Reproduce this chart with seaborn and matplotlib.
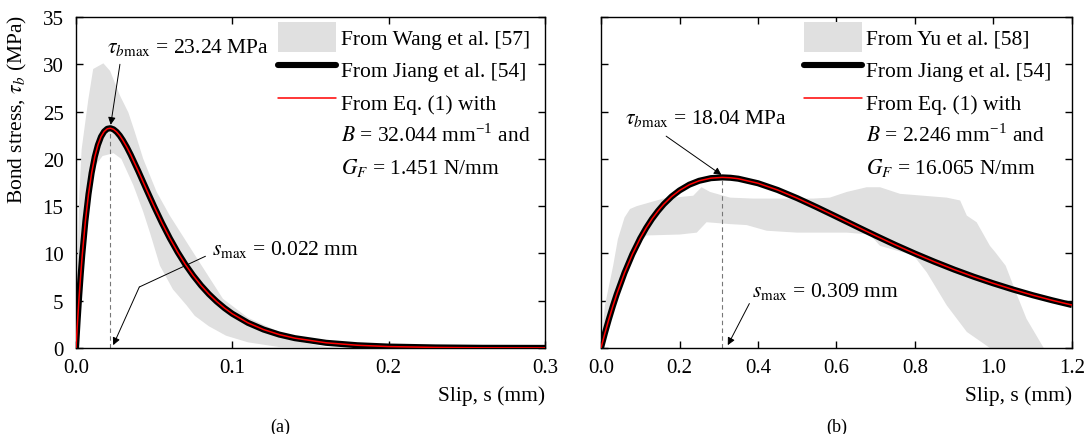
import numpy as np
import matplotlib
matplotlib.use("Agg")
import matplotlib.pyplot as plt
import seaborn as sns
from matplotlib.patches import Patch
from matplotlib.lines import Line2D

# ---- panel (a): Wang et al. band + Jiang et al. curve ----
wang_upper_s = [0, 0.001, 0.002, 0.0036, 0.0079, 0.011, 0.0175, 0.0218, 0.0281, 0.0335,
                0.0377, 0.043, 0.0516, 0.060, 0.075, 0.094, 0.11, 0.13, 0.145, 0.16, 0.17]
wang_upper_tau = [0, 9.0, 15.8, 21.0, 26.3, 29.5, 30.1, 29.3, 26.7, 24.9,
                  22.8, 20.0, 16.5, 14.0, 10.1, 5.2, 3.2, 1.7, 0.6, 0.1, 0]
wang_lower_s = [0, 0.004, 0.008, 0.012, 0.017, 0.024, 0.029, 0.0367, 0.043, 0.0473,
                0.0537, 0.062, 0.0708, 0.076, 0.085, 0.096, 0.11, 0.13, 0.17]
wang_lower_tau = [0, 9.5, 15.8, 19.2, 20.3, 20.6, 20.0, 17.2, 14.4, 12.2,
                  8.7, 6.2, 4.5, 3.4, 2.3, 1.3, 0.6, 0.1, 0]

jiang_a_s = [0, 0.001, 0.002, 0.003, 0.004, 0.006, 0.008, 0.010, 0.012, 0.014, 0.016,
             0.018, 0.020, 0.022, 0.024, 0.026, 0.028, 0.030, 0.0325, 0.035, 0.040,
             0.045, 0.050, 0.055, 0.060, 0.065, 0.070, 0.075, 0.080, 0.085, 0.090,
             0.095, 0.100, 0.110, 0.120, 0.130, 0.140, 0.160, 0.180, 0.200, 0.230,
             0.260, 0.300]
jiang_a_tau = [0, 2.84, 5.42, 7.74, 9.84, 13.42, 16.27, 18.50, 20.21, 21.46, 22.34,
               22.89, 23.18, 23.24, 23.12, 22.85, 22.46, 21.96, 21.24, 20.43, 18.65,
               16.79, 14.96, 13.22, 11.61, 10.14, 8.82, 7.65, 6.61, 5.70, 4.91,
               4.22, 3.62, 2.66, 1.95, 1.42, 1.04, 0.55, 0.29, 0.15, 0.06,
               0.02, 0.01]

# ---- panel (b): Yu et al. band + Jiang et al. curve ----
yu_upper_s = [0, 0.01, 0.031, 0.043, 0.06, 0.074, 0.091, 0.159, 0.235, 0.256, 0.278,
              0.329, 0.388, 0.541, 0.583, 0.626, 0.677, 0.711, 0.762, 0.881, 0.915,
              0.932, 0.957, 0.991, 1.005, 1.031, 1.057, 1.084, 1.128]
yu_upper_tau = [0, 4.5, 8.7, 11.5, 13.8, 14.7, 15.0, 15.8, 16.1, 17.0, 16.5,
                15.9, 15.8, 15.8, 15.9, 16.5, 17.0, 17.0, 16.3, 15.9, 15.6,
                14.0, 13.3, 10.8, 10.1, 8.7, 5.9, 3.1, 0]
yu_lower_s = [0, 0.05, 0.09, 0.116, 0.201, 0.244, 0.269, 0.329, 0.371, 0.422, 0.499,
              0.626, 0.685, 0.711, 0.796, 0.83, 0.881, 0.932, 0.991, 1.128]
yu_lower_tau = [0, 6.5, 10.8, 11.9, 12.0, 12.2, 13.3, 13.1, 13.0, 12.4, 12.2,
                12.2, 12.0, 10.8, 9.8, 8.0, 4.5, 1.7, 0, 0]

jiang_b_s = [0, 0.01, 0.02, 0.03, 0.04, 0.06, 0.08, 0.10, 0.115, 0.13, 0.145, 0.16,
             0.18, 0.20, 0.225, 0.25, 0.28, 0.309, 0.33, 0.35, 0.40, 0.45, 0.50,
             0.55, 0.60, 0.65, 0.70, 0.75, 0.80, 0.85, 0.90, 0.95, 1.00, 1.05,
             1.10, 1.15, 1.20]
jiang_b_tau = [0, 1.57, 3.03, 4.40, 5.67, 7.95, 9.92, 11.60, 12.69, 13.65, 14.48, 15.21,
               16.02, 16.66, 17.27, 17.68, 17.96, 18.04, 18.00, 17.90, 17.42, 16.71, 15.84,
               14.88, 13.88, 12.87, 11.87, 10.90, 9.98, 9.11, 8.29, 7.53, 6.83, 6.18,
               5.58, 5.04, 4.54]

GRAY = '#e0e0e0'
FS = 15.5
TICK_FS = 15

sns.set_theme(style='ticks')
plt.rcParams['font.family'] = ['Liberation Serif', 'DejaVu Serif']
plt.rcParams['mathtext.fontset'] = 'stix'
plt.rcParams['font.size'] = FS
for key in ['text.color', 'axes.labelcolor', 'xtick.color', 'ytick.color',
            'xtick.labelcolor', 'ytick.labelcolor', 'axes.edgecolor']:
    plt.rcParams[key] = 'black'


def style_axes(ax, xmax, xstep, show_ylabels):
    ax.set_xlim(0, xmax)
    ax.set_ylim(0, 35)
    ax.set_xticks(np.arange(0, xmax + xstep / 2, xstep))
    ax.set_yticks(np.arange(0, 36, 5))
    ax.xaxis.set_major_formatter(matplotlib.ticker.FormatStrFormatter('%.1f'))
    ax.tick_params(direction='in', top=True, right=True, length=5, width=1,
                   labelsize=TICK_FS, color='black', labelcolor='black')
    ax.tick_params(axis='x', pad=7)
    ax.tick_params(axis='y', pad=9)
    if not show_ylabels:
        ax.tick_params(labelleft=False)
    for sp in ax.spines.values():
        sp.set_visible(True)
        sp.set_color('black')
        sp.set_linewidth(1.0)
    ax.set_xlabel('Slip, s (mm)', fontsize=FS, loc='right', color='black')
    ax.xaxis.set_label_coords(1.0, -0.112)


def draw_panel(ax, up_s, up_t, lo_s, lo_t, cs, ct, band_label, b_text, g_text):
    ax.fill(list(up_s) + list(lo_s)[::-1], list(up_t) + list(lo_t)[::-1],
            color=GRAY, lw=0, zorder=1)
    sns.lineplot(x=cs, y=ct, ax=ax, color='black', lw=4.4, sort=False, zorder=3,
                 solid_joinstyle='round', solid_capstyle='butt')
    sns.lineplot(x=cs, y=ct, ax=ax, color='#ff0000', lw=1.1, sort=False, zorder=4,
                 solid_joinstyle='round')
    handles = [Patch(facecolor=GRAY, edgecolor='none'),
               Line2D([], [], color='black', lw=4.4, solid_capstyle='round'),
               Line2D([], [], color='#ff0000', lw=1.1),
               Line2D([], [], color='none'),
               Line2D([], [], color='none')]
    labels = [band_label, 'From Jiang et al. [54]', 'From Eq. (1) with', b_text, g_text]
    leg = ax.legend(handles, labels, loc='upper left', bbox_to_anchor=(0.431, 0.985),
                    frameon=False, fontsize=FS, handlelength=2.7, handleheight=1.75,
                    handletextpad=0.2, labelspacing=0.12, borderpad=0, borderaxespad=0)
    for t in leg.get_texts():
        t.set_color('black')


fig = plt.figure(figsize=(10.89, 4.35), dpi=100)
ax_a = fig.add_axes([76 / 1089, 86 / 435, 469 / 1089, 331 / 435])
ax_b = fig.add_axes([601 / 1089, 86 / 435, 471 / 1089, 331 / 435])

draw_panel(ax_a, wang_upper_s, wang_upper_tau, wang_lower_s, wang_lower_tau,
           jiang_a_s, jiang_a_tau, 'From Wang et al. [57]',
           r'$B$ = 32.044 mm$^{\mathregular{-1}}$ and', r'$G_F$ = 1.451 N/mm')
draw_panel(ax_b, yu_upper_s, yu_upper_tau, yu_lower_s, yu_lower_tau,
           jiang_b_s, jiang_b_tau, 'From Yu et al. [58]',
           r'$B$ = 2.246 mm$^{\mathregular{-1}}$ and', r'$G_F$ = 16.065 N/mm')

style_axes(ax_a, 0.3, 0.1, True)
style_axes(ax_b, 1.2, 0.2, False)
ax_a.set_ylabel(r'Bond stress, $\tau_b$ (MPa)', fontsize=FS, loc='top', color='black')
ax_a.yaxis.set_label_coords(-0.1, 1.01)

arrow = dict(arrowstyle='-|>', color='black', lw=0.7, mutation_scale=11,
             shrinkA=0, shrinkB=0)

# panel (a) annotations
ax_a.plot([0.022, 0.022], [0, 23.24], color='#777777', lw=0.8, ls=(0, (4, 3)), zorder=2)
ax_a.text(0.0198, 31.3, r'$\tau_{b\mathrm{max}}$ = 23.24 MPa', fontsize=FS, va='baseline')
ax_a.annotate('', xy=(0.0222, 23.6), xytext=(0.0281, 30.0), arrowprops=arrow)
ax_a.text(0.087, 9.9, r'$s_{\mathrm{max}}$ = 0.022 mm', fontsize=FS, va='baseline')
ax_a.plot([0.0828, 0.0405], [9.7, 6.45], color='black', lw=0.7)
ax_a.annotate('', xy=(0.0238, 0.3), xytext=(0.0405, 6.45), arrowprops=arrow)

# panel (b) annotations
ax_b.plot([0.309, 0.309], [0, 18.04], color='#777777', lw=0.8, ls=(0, (4, 3)), zorder=2)
ax_b.text(0.06, 23.8, r'$\tau_{b\mathrm{max}}$ = 18.04 MPa', fontsize=FS, va='baseline')
ax_b.annotate('', xy=(0.307, 18.3), xytext=(0.166, 22.4), arrowprops=arrow)
ax_b.text(0.385, 5.5, r'$s_{\mathrm{max}}$ = 0.309 mm', fontsize=FS, va='baseline')
ax_b.annotate('', xy=(0.323, 0.3), xytext=(0.378, 4.7), arrowprops=arrow)

fig.text(280 / 1089, 1 - 427 / 435, '(a)', ha='center', va='center', fontsize=13)
fig.text(837 / 1089, 1 - 427 / 435, '(b)', ha='center', va='center', fontsize=13)

fig.savefig('out.png', dpi=100)
